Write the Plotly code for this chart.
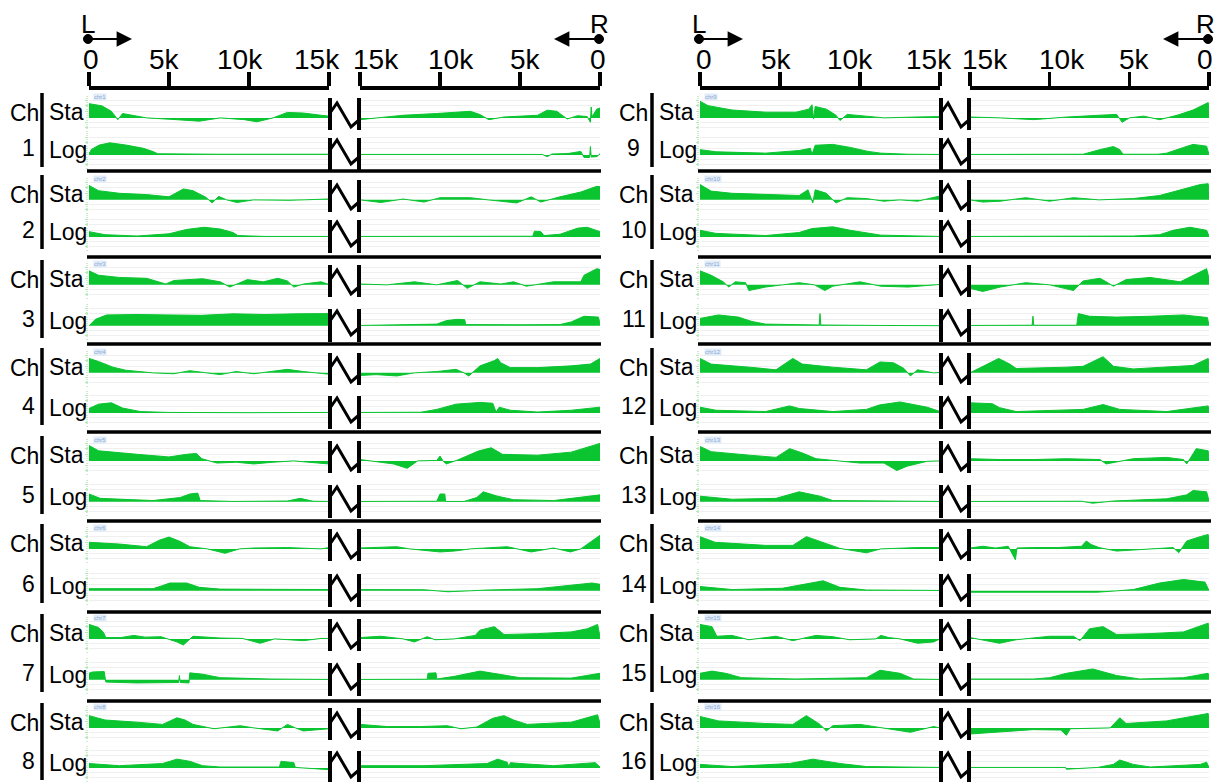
import plotly.graph_objects as go

# the figure fills the whole 1214x782 page (body margin removed by a tiny post-script)
PAGE_W, PAGE_H, OFF = 1214, 782, 0
W, H = PAGE_W - OFF, PAGE_H - OFF
GREEN = "rgb(10,196,48)"
FONT = "Liberation Sans, Arial, sans-serif"

CHROMS = list(range(1, 17))
TICK_VALS = [0, 5, 10, 15]
TICK_TEXT = ["0", "5k", "10k", "15k"]
TRACKS = ["Sta", "Log"]

# (position in kb from chromosome end, signal value) ; left arm read from L end, right arm from R end
STA_LEFT = {
    1: [(0, .65), (.8, .55), (1.4, .3), (1.8, -.08), (2.1, .2), (3, .08), (3.6, 0), (5, -.06), (6.9, -.15), (8.2, 0), (9.7, -.08), (10.5, -.18), (11.5, 0), (12.4, .25), (13.4, .22), (14.5, .12), (15, .08)],
    2: [(0, .66), (.6, .42), (1.9, .3), (3.6, .24), (5, .14), (5.9, .5), (6.5, .42), (7.3, .12), (7.7, -.14), (8.1, .16), (8.6, 0), (9.25, -.12), (10.3, 0), (12.5, -.02), (15, .04)],
    3: [(0, .64), (.6, .44), (1.9, .34), (3.6, .3), (4.8, .04), (5.3, .2), (7.1, .28), (8.2, .14), (8.8, -.1), (9.9, .24), (10.9, .14), (11.8, .3), (12.4, .18), (12.8, -.1), (13.4, .04), (14.5, .14), (15, .02)],
    4: [(0, .66), (.6, .52), (1.5, .26), (2.3, .12), (4, 0), (5.3, -.04), (6.3, .1), (7.3, .02), (8.2, -.08), (9.2, .06), (10.3, -.04), (12.4, .16), (13.4, .06), (15, -.06)],
    5: [(0, .7), (.6, .46), (3, .3), (5, .18), (6.1, .3), (6.7, .34), (7.05, .1), (8, -.1), (9.2, -.06), (10.3, -.14), (11.5, -.06), (12.8, 0), (13.4, -.04), (15, -.14)],
    6: [(0, .3), (1.9, .22), (3.6, .1), (4.4, .4), (5, .54), (5.7, .34), (6.3, .1), (7.4, 0), (8.5, -.2), (9.4, 0), (10.3, .04), (12.4, .06), (14.5, 0), (15, .06)],
    7: [(0, .66), (.6, .52), (.9, .3), (1.05, .06), (2, .06), (2.8, .16), (3.5, .08), (4.5, .1), (5.5, -.14), (5.9, -.28), (6.5, .12), (8.2, .04), (9.6, .02), (10.7, -.2), (11.6, 0), (13.4, -.08), (14.5, .02), (15, .02)],
    8: [(0, .56), (1, .36), (3, .26), (4.6, .16), (5.5, .46), (6, .36), (6.5, .16), (7.8, -.04), (9.45, .1), (10.3, 0), (11.8, -.14), (12.4, .16), (12.9, 0), (13.4, -.14), (15, -.04)],
    9: [(0, .76), (.5, .56), (2, .36), (4.1, .26), (6, .26), (6.8, .4), (7, .6), (7.1, -.04), (7.2, .52), (7.9, .4), (8.5, .12), (8.75, -.12), (9.2, .16), (10.4, .08), (11.5, 0), (13.5, .04), (15, .06)],
    10: [(0, .7), (.7, .4), (2, .3), (4.1, .24), (6.2, .2), (6.75, .46), (6.95, .1), (7.05, -.14), (7.2, .46), (7.9, .3), (8.5, -.14), (9.2, .1), (10.4, .06), (11.5, -.06), (12.5, 0), (13.6, -.06), (15, .18)],
    11: [(0, .64), (.7, .44), (1.45, .14), (1.8, -.1), (2.2, .14), (2.85, .1), (3.05, -.26), (4.1, -.1), (5.15, 0), (6.2, .1), (7.15, 0), (7.8, -.26), (8.3, -.06), (10, .14), (11.3, -.06), (13, -.1), (15, .02)],
    12: [(0, .66), (.7, .4), (3.1, .26), (4.75, .14), (5.8, .66), (6.4, .4), (8.3, .26), (10.4, .14), (11.25, .5), (12.1, .46), (12.75, .2), (13.15, -.14), (13.6, .14), (14.6, 0), (15, .02)],
    13: [(0, .66), (.7, .42), (3.1, .26), (4.75, .16), (5.6, .56), (6.4, .36), (7.25, .1), (8.75, 0), (10, -.1), (11.5, -.1), (12.3, -.44), (12.95, -.24), (14.2, -.02), (15, 0)],
    14: [(0, .56), (.95, .3), (4.1, .16), (5.8, .16), (6.65, .56), (7.7, .3), (8.75, .02), (10.4, -.18), (11.3, 0), (13.6, .06), (15, .06)],
    15: [(0, .66), (.75, .56), (1.05, .12), (2, .16), (3.05, -.04), (4.75, .12), (5.8, -.08), (7.25, .16), (8.3, .1), (9.35, -.04), (11, 0), (11.3, .16), (11.8, .06), (12.5, 0), (13.6, -.2), (14.6, -.14), (15, 0)],
    16: [(0, .52), (1.15, .32), (4.1, .2), (5.8, .16), (6.65, .56), (7.5, .16), (7.9, -.14), (8.3, .1), (10, .16), (11.5, 0), (13.15, -.2), (14.6, .06), (15, 0)],
}

STA_RIGHT = {
    1: [(15, -.08), (13.7, 0), (12.3, .12), (10.2, .2), (8.1, .3), (7.5, .15), (6.95, -.08), (6, .04), (3.9, .12), (3.3, .35), (2.7, .3), (2.05, -.05), (1.4, .1), (.8, .06), (.6, -.2), (.55, .5), (.5, .05), (.2, .4), (0, .45)],
    2: [(15, 0), (13.7, -.12), (12.3, .04), (11, -.1), (10, .1), (8.1, .1), (7, 0), (5.2, -.14), (4.3, .14), (3.7, -.1), (2.5, .14), (1.2, .36), (.2, .62), (0, .6)],
    3: [(15, .04), (13.3, 0), (11.6, .14), (10.2, 0), (8.9, .2), (8.3, -.16), (7.5, .14), (6.2, .04), (5.4, .14), (4.6, -.06), (2.9, .14), (1.2, .14), (1, .44), (.2, .74), (0, .7)],
    4: [(15, -.12), (14, -.08), (12.7, -.14), (11.6, 0), (10.2, .06), (9, .16), (8.5, 0), (8.2, -.14), (7.5, .32), (6.6, .56), (6.4, .66), (6.2, .46), (5.6, .24), (3.9, .24), (1.8, .32), (.6, .4), (0, .66)],
    5: [(15, .06), (13.9, -.06), (12.9, -.14), (12.05, -.34), (11.4, 0), (10.2, .02), (10, .22), (9.8, -.02), (9.6, -.14), (8.9, .04), (7.6, .45), (6.8, .6), (6.1, .3), (3.9, .26), (1.8, .4), (0, .8)],
    6: [(15, .04), (12.7, .1), (11.9, 0), (10, -.14), (9.1, -.1), (8.1, 0), (5.8, .1), (5.2, 0), (4.3, -.14), (2.9, .04), (1.85, -.14), (1.2, 0), (.6, .3), (0, .62)],
    7: [(15, .06), (13.7, .12), (12.3, 0), (11.6, -.14), (10.8, .1), (10.3, -.04), (9.1, 0), (7.8, .16), (7.5, .4), (6.6, .56), (6, .2), (3.9, .24), (1.8, .32), (.8, .46), (.15, .66), (0, .1)],
    8: [(15, .16), (13.3, .06), (11.2, .06), (9.55, .1), (8.7, -.04), (7.7, .04), (6.7, .44), (6, .56), (5.4, .36), (4.55, .16), (1.8, .26), (.15, .6), (0, .2)],
    9: [(15, .04), (13.1, 0), (11, -.08), (10, -.02), (8.9, .04), (6.9, .12), (5.8, .16), (5.45, -.2), (5, 0), (4.1, .08), (3.1, -.08), (2, .12), (1, .36), (.05, .7), (0, .3)],
    10: [(15, 0), (14.2, -.1), (13.1, -.06), (11.5, .1), (10, -.06), (8.5, .1), (6.9, 0), (4.75, .06), (3.1, .2), (1.6, .5), (.55, .7), (.05, .74), (0, .3)],
    11: [(15, -.16), (14.2, -.3), (13.1, -.1), (11.5, .1), (10, 0), (8.95, -.16), (8.5, -.26), (7.9, .18), (6.85, .3), (6.45, .14), (6, -.06), (5.2, .24), (3.7, .34), (1.8, .14), (.8, .5), (.15, .74), (0, .3)],
    12: [(15, 0), (14.2, .3), (13.2, .66), (12.5, .4), (12.1, .2), (8.95, .26), (7.9, .3), (6.65, .74), (6, .3), (4.75, .18), (2.65, .26), (1, .34), (.05, .66), (0, .1)],
    13: [(15, .1), (13.1, .06), (11, .06), (8.95, .1), (6.85, .06), (6.45, -.14), (4.75, .1), (2.65, .16), (1.6, .06), (1.4, -.14), (.8, .56), (.05, .46), (0, .06)],
    14: [(15, .04), (14.2, .12), (13.4, .04), (12.6, .12), (12.15, -.5), (12.05, .04), (11, .06), (9.5, .06), (8, .12), (7.7, .36), (7.4, .2), (6.9, .06), (5.8, -.1), (3.7, 0), (2.25, .06), (1.9, -.18), (1.4, .36), (.55, .56), (.05, .66), (0, .2)],
    15: [(15, .06), (13.15, -.2), (12.1, -.04), (10, .12), (8.5, .12), (8.1, -.08), (7.5, .46), (6.65, .56), (5.8, .2), (3.7, .24), (1.6, .32), (.05, .72), (0, .2)],
    16: [(15, -.28), (13.15, -.2), (11.05, -.08), (9.3, -.1), (8.95, -.34), (8.7, -.04), (6.2, 0), (5.6, .46), (5.2, .2), (2.65, .32), (.05, .66), (0, .2)],
}

LOG_LEFT = {
    1: [(0, .05), (.15, .25), (.65, .45), (1.3, .55), (2.3, .45), (3.4, .3), (4, .15), (4.3, .05), (8, .03), (11, .02), (15, .03)],
    2: [(0, .24), (1, .1), (3, .04), (5, .14), (6.1, .34), (7.2, .44), (8.2, .36), (9, .2), (9.3, .06), (11, .02), (15, .02)],
    3: [(0, 0), (.4, .3), (1.1, .5), (3, .52), (5, .5), (7, .48), (9, .55), (11, .52), (13, .55), (15, .56)],
    4: [(0, .2), (.6, .4), (1.4, .46), (2.1, .22), (3.2, .06), (5, .02), (10, .01), (15, .02)],
    5: [(0, .36), (.7, .16), (4, .06), (5.7, .2), (6.3, .36), (6.8, .4), (6.95, .06), (9, .02), (12.4, .04), (13.2, .16), (14, .03), (15, .02)],
    6: [(0, .1), (4, .1), (4.6, .24), (5.05, .36), (6.1, .36), (6.9, .16), (8.2, .08), (15, .06)],
    7: [(0, .3), (.2, .36), (.95, .38), (1.05, -.1), (3, -.14), (5, -.14), (5.6, -.12), (5.65, .2), (5.7, -.12), (6.25, -.14), (6.3, .32), (7.1, .26), (8.2, .1), (9.3, .08), (11.3, .04), (15, .02)],
    8: [(0, .2), (1.9, .1), (4.6, .2), (5.5, .4), (6.3, .3), (7.1, .1), (8.2, .04), (11.9, .04), (12, .3), (12.8, .24), (12.9, .02), (15, -.08)],
    9: [(0, .24), (1, .14), (4.1, .08), (6.2, .2), (6.9, .3), (7, .02), (7.2, .44), (8.3, .48), (9.4, .34), (10.5, .16), (11.3, .08), (13, .03), (15, .02)],
    10: [(0, .3), (1, .16), (4.1, .06), (6.2, .2), (7, .38), (8.3, .46), (9.4, .3), (11.3, .08), (15, .02)],
    11: [(0, .34), (1.15, .5), (2.4, .4), (3.25, .2), (4.1, .08), (7.45, .04), (7.5, .56), (7.55, .04), (11, .02), (15, .01)],
    12: [(0, .26), (1, .12), (4.1, .06), (5.6, .32), (6.2, .2), (8.3, .06), (10.4, .16), (11.2, .36), (12.5, .5), (14.2, .26), (15, .06)],
    13: [(0, .26), (2, .12), (4.75, .16), (6.2, .46), (7.5, .26), (8.3, .06), (15, .02)],
    14: [(0, .2), (2, .06), (5.15, .12), (6.2, .26), (7.7, .46), (8.75, .16), (10.4, .04), (15, .02)],
    15: [(0, .3), (.75, .4), (1.6, .3), (2.6, .1), (6, .04), (8.8, .06), (10.4, .1), (11.25, .44), (12.5, .3), (13.35, .04), (15, .02)],
    16: [(0, .16), (2, .06), (5.6, .2), (7.05, .4), (8.75, .2), (10.4, .06), (15, .02)],
}

LOG_RIGHT = {
    1: [(15, .02), (10, .03), (5, .02), (3.6, .02), (3.3, -.08), (3, .04), (2, .06), (1.2, .16), (1, -.12), (.65, -.12), (.6, .38), (.55, -.1), (.2, -.08), (0, .05)],
    2: [(15, .02), (8, .01), (4.2, .03), (4.1, .26), (3.7, .24), (3.5, .06), (2.5, .12), (1.4, .4), (.8, .44), (0, .24)],
    3: [(15, .02), (12, .06), (10.2, .08), (9.6, .24), (8.9, .3), (8.45, .28), (8.4, .06), (5, .05), (2.5, .06), (1.8, .18), (1, .44), (.1, .4), (0, .1)],
    4: [(15, .02), (11.2, .03), (10.2, .16), (9, .4), (7.5, .48), (6.7, .44), (6.5, .04), (6.3, .26), (5.6, .12), (3.9, .04), (1.8, .12), (0, .26)],
    5: [(15, .02), (10.2, .03), (10, .36), (9.7, .36), (9.65, .02), (8.5, .02), (7.7, .2), (7.3, .46), (6.4, .26), (5.4, .1), (2.9, .06), (0, .32)],
    6: [(15, .06), (11, .05), (9.5, -.04), (7, .04), (3.9, .1), (1.85, .24), (.5, .36), (0, .3)],
    7: [(15, .02), (10.8, .03), (10.75, .3), (10.25, .32), (10.2, .04), (9.1, .16), (7.5, .4), (6.6, .3), (5, .1), (1.8, .08), (0, .3)],
    8: [(15, .1), (11, .1), (7.05, .2), (6.4, .4), (5.8, .26), (5.7, .04), (5.6, .24), (5, .2), (2.9, .1), (.3, .24), (0, .04)],
    9: [(15, .02), (7.9, .03), (6.85, .24), (6, .38), (5.6, .24), (5.4, .03), (3.2, .03), (2.65, .08), (1.6, .34), (1, .48), (.15, .4), (0, .02)],
    10: [(15, .02), (8, .02), (4.75, .04), (3.1, .1), (2.25, .3), (1.2, .44), (.15, .3), (0, .04)],
    11: [(15, .02), (11.1, .03), (11.05, .44), (11, .03), (8.3, .03), (8.2, .56), (7.5, .44), (5.8, .4), (3.7, .44), (1.6, .5), (.1, .38), (0, .02)],
    12: [(15, .46), (13.6, .42), (13.15, .24), (12.1, .06), (7.9, .16), (6.65, .38), (5.6, .16), (2.65, .06), (.05, .32), (0, .02)],
    13: [(15, .02), (8, .03), (7.3, -.06), (6, .04), (2.65, .14), (1.4, .32), (1, .52), (.15, .46), (0, .04)],
    14: [(15, -.06), (12, -.06), (9, -.04), (7, -.06), (5.8, 0), (4.75, .06), (3.1, .36), (1.6, .52), (.25, .4), (0, .02)],
    15: [(15, .04), (11, .04), (10, .1), (8.95, .3), (7.3, .5), (5.8, .2), (4.35, .04), (1.6, .1), (.05, .3), (0, .02)],
    16: [(15, .02), (9, .02), (8.95, -.06), (7, .02), (6, .16), (5.6, .36), (4.75, .16), (3.7, .04), (.55, .16), (.15, .26), (0, .02)],
}

# ---------------- layout geometry (page pixels) ----------------
STA_BASE = [118, 200, 285, 373, 461, 549, 639, 728]
LOG_BASE = [155, 237, 326, 413, 502, 591, 680, 768]
SEP_Y = [171, 257, 344, 432, 521, 612, 701]
RULER_Y = 87
COLS = [
    dict(l0=89, l1=329, r0=360, r1=600, vline=42, label=25, line0=87, line1=601, xl="x", xr="x2",
         shift_l=[2, -5, -9, -12], shift_r=[-2, 5, 11, 16]),
    dict(l0=700, l1=940, r0=970, r1=1209, vline=652, label=634, line0=698, line1=1211, xl="x3", xr="x4",
         shift_l=[4, -4, -10, -11], shift_r=[-4, 5, 12, 15]),
]
Y_RANGE = [-0.6, 1.0]


def px(x):
    return (x - OFF) / W


def py(y):
    return 1 - (y - OFF) / H


fig = go.Figure()
layout = dict(
    width=W, height=H, margin=dict(l=0, r=0, t=0, b=0, autoexpand=False),
    paper_bgcolor="white", plot_bgcolor="white", showlegend=False,
    font=dict(family=FONT, color="black"),
)
shapes = []
annotations = []

# ruler x axes
for c, col in enumerate(COLS):
    for side, (a, b, rng) in enumerate([(col["l0"], col["l1"], [0, 15]), (col["r0"], col["r1"], [15, 0])]):
        name = col["xl"] if side == 0 else col["xr"]
        key = "xaxis" if name == "x" else "xaxis" + name[1:]
        layout[key] = dict(
            domain=[px(a), px(b)], range=rng, anchor="free", position=py(RULER_Y), side="top",
            showgrid=False, zeroline=False, showline=True, linewidth=3.5, linecolor="black",
            ticks="outside", ticklen=14, tickwidth=3.5, tickcolor="black",
            tickvals=TICK_VALS, showticklabels=False, automargin=False,
        )
        shifts = col["shift_l"] if side == 0 else col["shift_r"]
        for tv, tt, sh in zip(TICK_VALS, TICK_TEXT, shifts):
            annotations.append(dict(
                x=tv, xref=name, y=py(60), yref="paper", text=tt, showarrow=False,
                xanchor="center", yanchor="middle", xshift=sh,
                font=dict(size=28, family=FONT, color="black"),
            ))

sources = {("Sta", "L"): STA_LEFT, ("Sta", "R"): STA_RIGHT, ("Log", "L"): LOG_LEFT, ("Log", "R"): LOG_RIGHT}

for chrom in CHROMS:
    c = 0 if chrom <= 8 else 1
    i = (chrom - 1) % 8
    col = COLS[c]
    for t, track in enumerate(TRACKS):
        n = 1 + c * 16 + i * 2 + t
        yname = "y" if n == 1 else f"y{n}"
        ykey = "yaxis" if n == 1 else f"yaxis{n}"
        base = STA_BASE[i] if t == 0 else LOG_BASE[i]
        layout[ykey] = dict(
            domain=[max(0, py(base + 13)), py(base - 22)], range=Y_RANGE, anchor=col["xl"],
            showline=False, zeroline=False, showticklabels=False, automargin=False,
            showgrid=True, gridcolor="#efefef", gridwidth=1, tickvals=[-0.45, -0.2, 0.3, 0.55, 0.8],
            ticks="outside", ticklen=3, tickcolor="#b9e6b9",
            minor=dict(ticks="outside", ticklen=2, tickcolor="#cdeecd", dtick=0.1, showgrid=False),
        )
        for side in ["L", "R"]:
            pts = sources[(track, side)][chrom]
            xs = [p[0] for p in pts]
            ys = [p[1] for p in pts]
            fig.add_trace(go.Scatter(
                x=xs, y=ys, xaxis=col["xl"] if side == "L" else col["xr"], yaxis=yname,
                mode="lines", line=dict(color=GREEN, width=1), fill="tozeroy", fillcolor=GREEN,
                hoverinfo="skip",
            ))
        # track label
        annotations.append(dict(
            x=px(col["vline"] + 5), y=py(base - 6 if t == 0 else base - 5), xref="paper", yref="paper",
            text=track, showarrow=False, xanchor="left", yanchor="middle",
            font=dict(size=23, family=FONT, color="black"),
        ))
        # break symbol
        bar_top = base - 20 if t == 0 else base - 17
        bar_bot = base + 12 if t == 0 else base + 16
        for bx in (col["l1"] + 1, col["r0"] - 1):
            shapes.append(dict(type="line", xref="paper", yref="paper", x0=px(bx), x1=px(bx),
                               y0=py(bar_top), y1=py(bar_bot), line=dict(color="black", width=4)))
        a, b = col["l1"] + 1, col["r0"] - 1
        path = (f"M {px(a)},{py(base - 5)} L {px(a + 7)},{py(base - 15)} "
                f"L {px(b - 8)},{py(base + 9)} L {px(b)},{py(base + 2)}")
        shapes.append(dict(type="path", xref="paper", yref="paper", path=path,
                           line=dict(color="black", width=3)))

    # chromosome label
    annotations.append(dict(x=px(col["label"]), y=py(STA_BASE[i] - 5), xref="paper", yref="paper",
                            text="Ch", showarrow=False, xanchor="center", yanchor="middle",
                            font=dict(size=23, family=FONT, color="black")))
    annotations.append(dict(x=px(col["label"] + (3 if c == 0 else 0)), y=py(LOG_BASE[i] - 7), xref="paper", yref="paper",
                            text=str(chrom), showarrow=False, xanchor="center", yanchor="middle",
                            font=dict(size=23, family=FONT, color="black")))
    # small chr tag
    annotations.append(dict(x=px(col["l0"] + 4), y=py(STA_BASE[i] - 21), xref="paper", yref="paper",
                            text=f"chr{chrom}", showarrow=False, xanchor="left", yanchor="middle",
                            bgcolor="#e2ecf8", borderpad=0,
                            font=dict(size=6, family=FONT, color="#8aaad6")))
    # vertical bar
    shapes.append(dict(type="line", xref="paper", yref="paper", x0=px(col["vline"]), x1=px(col["vline"]),
                       y0=py(STA_BASE[i] - 25), y1=py(LOG_BASE[i] + 12), line=dict(color="black", width=3.5)))

# horizontal separators
for col in COLS:
    for sy in SEP_Y:
        shapes.append(dict(type="line", xref="paper", yref="paper", x0=px(col["line0"]), x1=px(col["line1"]),
                           y0=py(sy), y1=py(sy), line=dict(color="black", width=3.5)))

# L / R markers
for col in COLS:
    for letter, xd, xhead in [("L", col["l0"] - 1, col["l0"] + 43), ("R", col["r1"] - 1, col["r1"] - 46)]:
        annotations.append(dict(x=px(min(xd, 1205)), y=py(24), xref="paper", yref="paper", text=letter, showarrow=False,
                                xanchor="center", yanchor="middle", font=dict(size=26, family=FONT, color="black")))
        shapes.append(dict(type="circle", xref="paper", yref="paper", x0=px(xd - 4.5), x1=px(xd + 4.5),
                           y0=py(43.5), y1=py(34.5), fillcolor="black", line=dict(color="black", width=1)))
        annotations.append(dict(x=px(xhead), y=py(39), xref="paper", yref="paper", text="",
                                showarrow=True, ax=(xd - xhead), ay=0, arrowhead=2, arrowsize=1.4,
                                arrowwidth=2.2, arrowcolor="black", standoff=0, startstandoff=0))

layout["shapes"] = shapes
layout["annotations"] = annotations
fig.update_layout(**layout)
fig.write_html(
    "out.html",
    config={"displayModeBar": False, "staticPlot": True},
    post_script="document.body.style.margin='0px';document.body.style.overflow='hidden';",
)
